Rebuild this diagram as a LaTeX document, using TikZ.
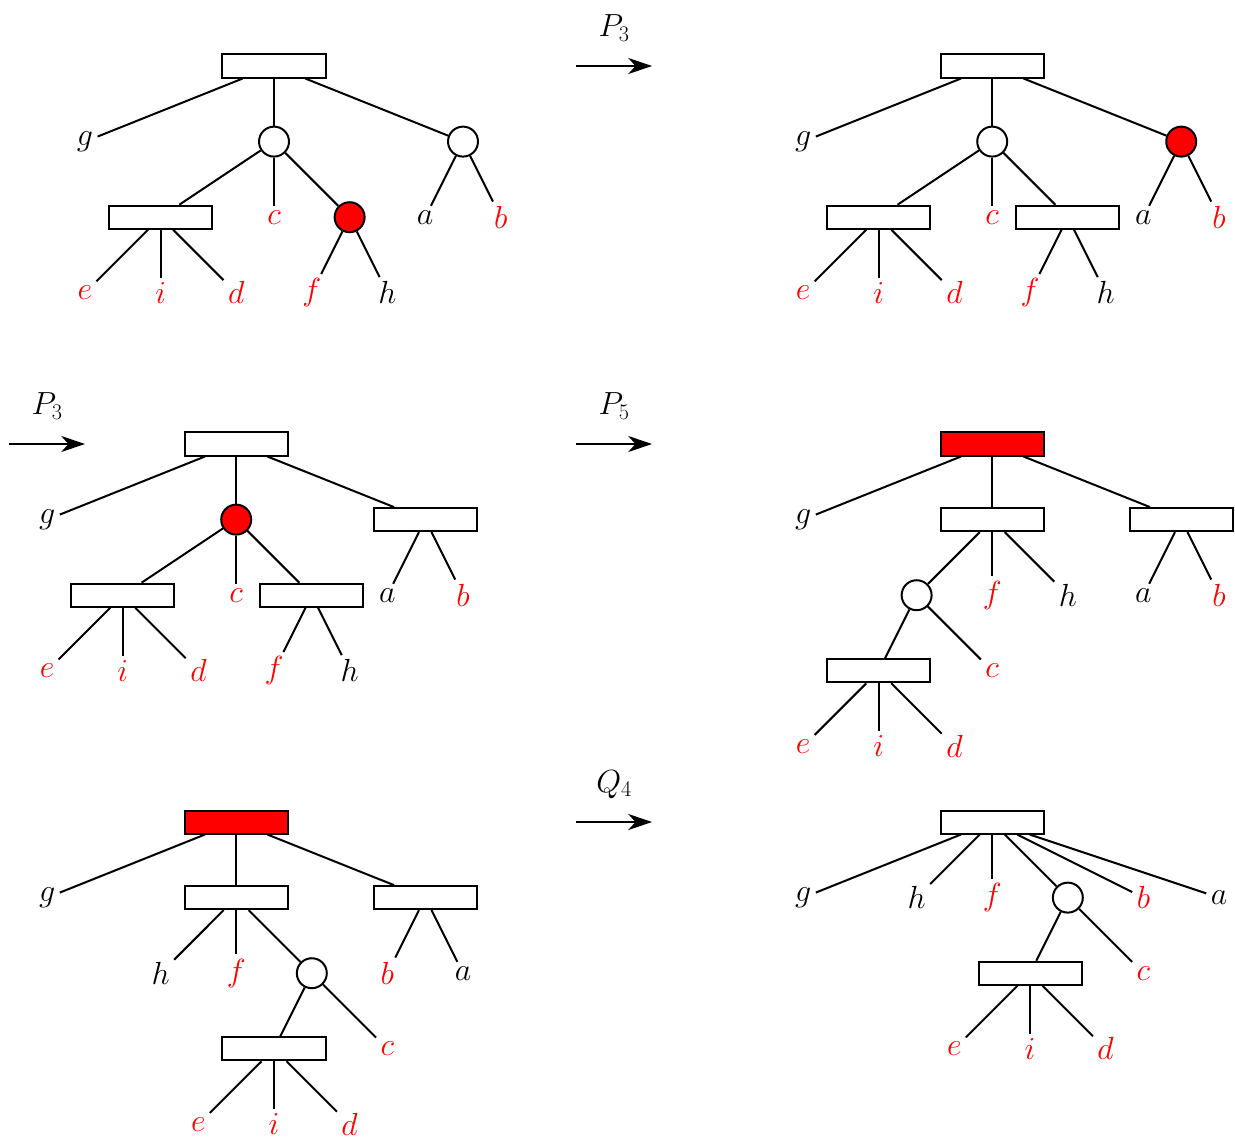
\documentclass[tikz,border=0pt]{standalone}
\usetikzlibrary{arrows.meta}
\DeclareMathSizes{24.88}{24.88}{17.28}{12}
\tikzset{
  box/.style={draw, line width=1.555pt, minimum width=80.1pt, minimum height=17.9pt, inner sep=0pt, fill=white},
  hbox/.style={box, fill=red},
  ring/.style={draw, circle, line width=1.555pt, minimum size=23.3pt, inner sep=0pt, fill=white},
  hring/.style={ring, fill=red},
  lf/.style={inner sep=.3333em},
  rl/.style={lf, text=red},
  edge/.style={line width=1.555pt},
  move/.style={line width=1.555pt, -{Stealth[length=18.5pt,width=12.5pt,inset=5.6pt]}},
}
\begin{document}
\begin{tikzpicture}[x=29.39pt, y=-29.39pt, font=\Huge]
\useasboundingbox (-0.2487,-1.746) rectangle (32.423,28.333);

% ---- tree A (top left) ----
\node[box]   (A)   at (7,0) {};
\node[lf]    (Ag)  at (2,2) {$g$};
\node[ring]  (Au)  at (7,2) {};
\node[ring]  (Av)  at (12,2) {};
\node[box]   (Aw)  at (4,4) {};
\node[rl]    (Ac)  at (7,4) {$c$};
\node[hring] (Ax)  at (9,4) {};
\node[lf]    (Aa)  at (11,4) {$a$};
\node[rl]    (Ab)  at (13,4) {$b$};
\node[rl]    (Ae)  at (2,6) {$e$};
\node[rl]    (Ai)  at (4,6) {$i$};
\node[rl]    (Ad)  at (6,6) {$d$};
\node[rl]    (Af)  at (8,6) {$f$};
\node[lf]    (Ah)  at (10,6) {$h$};
\foreach \p/\q in {A/Ag, A/Au, A/Av, Au/Aw, Au/Ac, Au/Ax, Av/Aa, Av/Ab,
                   Aw/Ae, Aw/Ai, Aw/Ad, Ax/Af, Ax/Ah}
  \draw[edge] (\p) -- (\q);

% ---- tree B (top right) ----
\node[box]   (B)   at (26,0) {};
\node[lf]    (Bg)  at (21,2) {$g$};
\node[ring]  (Bu)  at (26,2) {};
\node[hring] (Bv)  at (31,2) {};
\node[box]   (Bw)  at (23,4) {};
\node[rl]    (Bc)  at (26,4) {$c$};
\node[box]   (Bx)  at (28,4) {};
\node[lf]    (Ba)  at (30,4) {$a$};
\node[rl]    (Bb)  at (32,4) {$b$};
\node[rl]    (Be)  at (21,6) {$e$};
\node[rl]    (Bi)  at (23,6) {$i$};
\node[rl]    (Bd)  at (25,6) {$d$};
\node[rl]    (Bf)  at (27,6) {$f$};
\node[lf]    (Bh)  at (29,6) {$h$};
\foreach \p/\q in {B/Bg, B/Bu, B/Bv, Bu/Bw, Bu/Bc, Bu/Bx, Bv/Ba, Bv/Bb,
                   Bw/Be, Bw/Bi, Bw/Bd, Bx/Bf, Bx/Bh}
  \draw[edge] (\p) -- (\q);

% ---- tree C (middle left) ----
\node[box]   (C)   at (6,10) {};
\node[lf]    (Cg)  at (1,12) {$g$};
\node[hring] (Cu)  at (6,12) {};
\node[box]   (Cv)  at (11,12) {};
\node[box]   (Cw)  at (3,14) {};
\node[rl]    (Cc)  at (6,14) {$c$};
\node[box]   (Cx)  at (8,14) {};
\node[lf]    (Ca)  at (10,14) {$a$};
\node[rl]    (Cb)  at (12,14) {$b$};
\node[rl]    (Ce)  at (1,16) {$e$};
\node[rl]    (Ci)  at (3,16) {$i$};
\node[rl]    (Cd)  at (5,16) {$d$};
\node[rl]    (Cf)  at (7,16) {$f$};
\node[lf]    (Ch)  at (9,16) {$h$};
\foreach \p/\q in {C/Cg, C/Cu, C/Cv, Cu/Cw, Cu/Cc, Cu/Cx, Cv/Ca, Cv/Cb,
                   Cw/Ce, Cw/Ci, Cw/Cd, Cx/Cf, Cx/Ch}
  \draw[edge] (\p) -- (\q);

% ---- tree D (middle right) ----
\node[hbox]  (D)   at (26,10) {};
\node[lf]    (Dg)  at (21,12) {$g$};
\node[box]   (Du)  at (26,12) {};
\node[box]   (Dv)  at (31,12) {};
\node[ring]  (Dw)  at (24,14) {};
\node[rl]    (Df)  at (26,14) {$f$};
\node[lf]    (Dh)  at (28,14) {$h$};
\node[lf]    (Da)  at (30,14) {$a$};
\node[rl]    (Db)  at (32,14) {$b$};
\node[box]   (Dx)  at (23,16) {};
\node[rl]    (Dc)  at (26,16) {$c$};
\node[rl]    (De)  at (21,18) {$e$};
\node[rl]    (Di)  at (23,18) {$i$};
\node[rl]    (Dd)  at (25,18) {$d$};
\foreach \p/\q in {D/Dg, D/Du, D/Dv, Du/Dw, Du/Df, Du/Dh, Dv/Da, Dv/Db,
                   Dw/Dx, Dw/Dc, Dx/De, Dx/Di, Dx/Dd}
  \draw[edge] (\p) -- (\q);

% ---- tree E (bottom left) ----
\node[hbox]  (E)   at (6,20) {};
\node[lf]    (Eg)  at (1,22) {$g$};
\node[box]   (Eu)  at (6,22) {};
\node[box]   (Ev)  at (11,22) {};
\node[lf]    (Eh)  at (4,24) {$h$};
\node[rl]    (Ef)  at (6,24) {$f$};
\node[ring]  (Ew)  at (8,24) {};
\node[rl]    (Eb)  at (10,24) {$b$};
\node[lf]    (Ea)  at (12,24) {$a$};
\node[box]   (Ex)  at (7,26) {};
\node[rl]    (Ec)  at (10,26) {$c$};
\node[rl]    (Ee)  at (5,28) {$e$};
\node[rl]    (Ei)  at (7,28) {$i$};
\node[rl]    (Ed)  at (9,28) {$d$};
\foreach \p/\q in {E/Eg, E/Eu, E/Ev, Eu/Eh, Eu/Ef, Eu/Ew, Ev/Eb, Ev/Ea,
                   Ew/Ex, Ew/Ec, Ex/Ee, Ex/Ei, Ex/Ed}
  \draw[edge] (\p) -- (\q);

% ---- tree F (bottom right) ----
\node[box]   (F)   at (26,20) {};
\node[lf]    (Fg)  at (21,22) {$g$};
\node[lf]    (Fh)  at (24,22) {$h$};
\node[rl]    (Ff)  at (26,22) {$f$};
\node[ring]  (Fw)  at (28,22) {};
\node[rl]    (Fb)  at (30,22) {$b$};
\node[lf]    (Fa)  at (32,22) {$a$};
\node[box]   (Fx)  at (27,24) {};
\node[rl]    (Fc)  at (30,24) {$c$};
\node[rl]    (Fe)  at (25,26) {$e$};
\node[rl]    (Fi)  at (27,26) {$i$};
\node[rl]    (Fd)  at (29,26) {$d$};
\foreach \p/\q in {F/Fg, F/Fh, F/Ff, F/Fw, F/Fb, F/Fa,
                   Fw/Fx, Fw/Fc, Fx/Fe, Fx/Fi, Fx/Fd}
  \draw[edge] (\p) -- (\q);

% ---- transformation arrows ----
\coordinate (m1s) at (15,0);  \coordinate (m1t) at (17,0);
\node[lf] (m1l) at (16,-1) {$P_3$};
\coordinate (m2s) at (0,10);  \coordinate (m2t) at (2,10);
\node[lf] (m2l) at (1,9) {$P_3$};
\coordinate (m3s) at (15,10); \coordinate (m3t) at (17,10);
\node[lf] (m3l) at (16,9) {$P_5$};
\coordinate (m4s) at (15,20); \coordinate (m4t) at (17,20);
\node[lf] (m4l) at (16,19) {$Q_4$};
\foreach \k in {1,2,3,4}
  \draw[move] (m\k s) -- (m\k t);
\end{tikzpicture}
\end{document}
